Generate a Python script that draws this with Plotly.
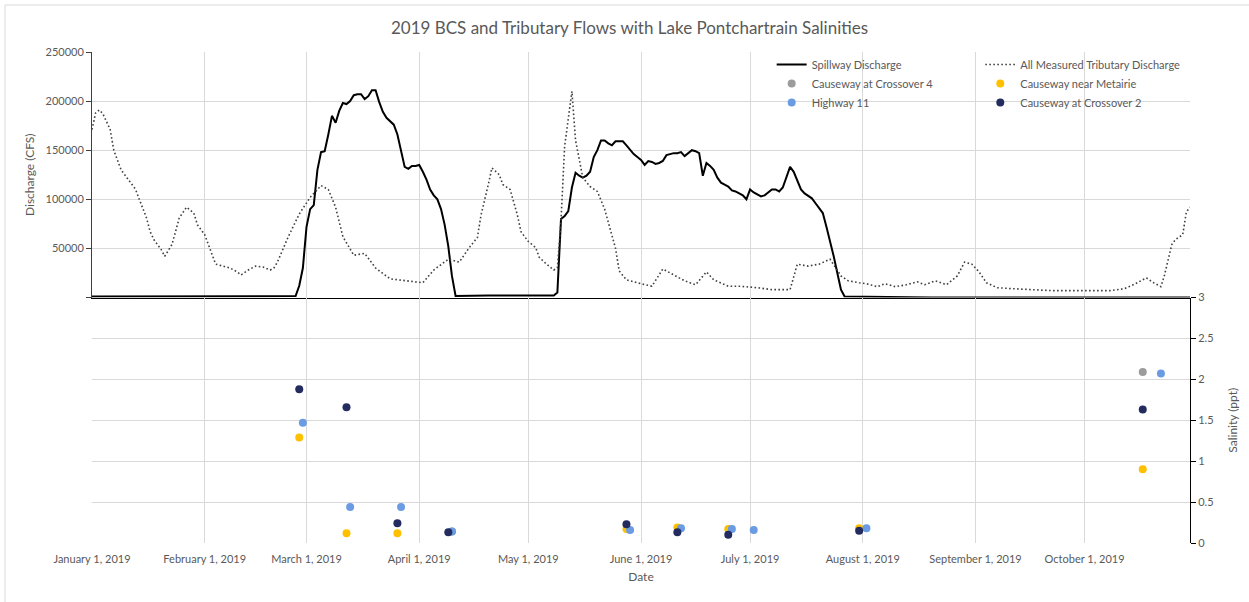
import plotly.graph_objects as go

# ---------------- data ----------------
spill_dates = [
    "2019-01-01", "2019-01-15", "2019-02-01", "2019-02-15", "2019-02-26",
    "2019-02-27", "2019-02-28", "2019-03-01", "2019-03-02", "2019-03-03", "2019-03-04",
    "2019-03-05", "2019-03-06", "2019-03-07", "2019-03-08", "2019-03-09", "2019-03-10",
    "2019-03-11", "2019-03-12", "2019-03-13", "2019-03-14", "2019-03-15", "2019-03-16",
    "2019-03-17", "2019-03-18", "2019-03-19", "2019-03-20", "2019-03-21", "2019-03-22",
    "2019-03-23", "2019-03-24", "2019-03-25", "2019-03-26", "2019-03-27", "2019-03-28",
    "2019-03-29", "2019-03-30", "2019-03-31", "2019-04-01", "2019-04-02", "2019-04-03",
    "2019-04-04", "2019-04-05", "2019-04-06", "2019-04-07", "2019-04-08", "2019-04-09",
    "2019-04-10", "2019-04-11", "2019-04-20", "2019-05-01", "2019-05-08",
    "2019-05-09", "2019-05-10", "2019-05-11", "2019-05-12", "2019-05-13", "2019-05-14",
    "2019-05-15", "2019-05-16", "2019-05-17", "2019-05-18", "2019-05-19", "2019-05-20",
    "2019-05-21", "2019-05-22", "2019-05-23", "2019-05-24", "2019-05-25", "2019-05-26",
    "2019-05-27", "2019-05-28", "2019-05-29", "2019-05-30", "2019-05-31", "2019-06-01",
    "2019-06-02", "2019-06-03", "2019-06-04", "2019-06-05", "2019-06-06", "2019-06-07",
    "2019-06-08", "2019-06-09", "2019-06-10", "2019-06-11", "2019-06-12", "2019-06-13",
    "2019-06-14", "2019-06-15", "2019-06-16", "2019-06-17", "2019-06-18", "2019-06-19",
    "2019-06-20", "2019-06-21", "2019-06-22", "2019-06-23", "2019-06-24", "2019-06-25",
    "2019-06-26", "2019-06-27", "2019-06-28", "2019-06-29", "2019-06-30", "2019-07-01",
    "2019-07-02", "2019-07-03", "2019-07-04", "2019-07-05", "2019-07-06", "2019-07-07",
    "2019-07-08", "2019-07-09", "2019-07-10", "2019-07-11", "2019-07-12", "2019-07-13",
    "2019-07-14", "2019-07-15", "2019-07-16", "2019-07-17", "2019-07-18", "2019-07-19",
    "2019-07-20", "2019-07-21", "2019-07-22", "2019-07-23", "2019-07-24", "2019-07-25",
    "2019-07-26", "2019-07-27", "2019-08-10", "2019-08-20", "2019-10-30",
]
spill_cfs = [
    1000, 1200, 1500, 1200, 1500,
    12000, 30000, 72000, 90000, 94000, 130000,
    148000, 149000, 166000, 185000, 178000, 190000,
    198000, 197000, 200000, 206000, 207000, 207000,
    202000, 205000, 211000, 211000, 199000, 189000,
    183000, 179000, 176000, 166000, 150000, 133000,
    131000, 134000, 134000, 135000, 128000, 120000,
    110000, 104000, 100000, 90000, 74000, 52000,
    22000, 1500, 2000, 2000, 2000,
    5000, 80000, 83000, 88000, 112000, 127000,
    124000, 122000, 124000, 128000, 143000, 150000,
    160000, 160000, 157000, 155000, 159000, 159000,
    159000, 155000, 150000, 146000, 143000, 140000,
    135000, 139000, 138000, 136000, 137000, 139000,
    145000, 146000, 147000, 147000, 148000, 144000,
    147000, 150000, 149000, 147000, 124000, 137000,
    134000, 130000, 122000, 117000, 115000, 113000,
    109000, 108000, 106000, 104000, 100000, 110000,
    107000, 105000, 103000, 104000, 107000, 110000,
    110000, 108000, 112000, 122000, 133000, 128000,
    118000, 110000, 106000, 103000, 101000, 96000,
    91000, 86000, 72000, 58000, 42000, 25000,
    8000, 1000, 800, 0, 0,
]

trib_dates = [
    "2019-01-01", "2019-01-02", "2019-01-03", "2019-01-04", "2019-01-06", "2019-01-07",
    "2019-01-09", "2019-01-11", "2019-01-13", "2019-01-14", "2019-01-16", "2019-01-17",
    "2019-01-18", "2019-01-20", "2019-01-21", "2019-01-23", "2019-01-24", "2019-01-25",
    "2019-01-27", "2019-01-29", "2019-01-30", "2019-02-01", "2019-02-03", "2019-02-04",
    "2019-02-06", "2019-02-08", "2019-02-10", "2019-02-11", "2019-02-13", "2019-02-15",
    "2019-02-17", "2019-02-19", "2019-02-20", "2019-02-21", "2019-02-24", "2019-02-27",
    "2019-03-02", "2019-03-05", "2019-03-07", "2019-03-09", "2019-03-11", "2019-03-14",
    "2019-03-17", "2019-03-20", "2019-03-24", "2019-03-29", "2019-04-02", "2019-04-05",
    "2019-04-09", "2019-04-12", "2019-04-15", "2019-04-17", "2019-04-18", "2019-04-20",
    "2019-04-21", "2019-04-23", "2019-04-24", "2019-04-26", "2019-04-28", "2019-04-29",
    "2019-05-01", "2019-05-03", "2019-05-04", "2019-05-06", "2019-05-08", "2019-05-09",
    "2019-05-10", "2019-05-11", "2019-05-12", "2019-05-13", "2019-05-14", "2019-05-16",
    "2019-05-18", "2019-05-20", "2019-05-22", "2019-05-24", "2019-05-25", "2019-05-26",
    "2019-05-28", "2019-06-01", "2019-06-04", "2019-06-07", "2019-06-10", "2019-06-13",
    "2019-06-16", "2019-06-19", "2019-06-21", "2019-06-25", "2019-06-28", "2019-07-03",
    "2019-07-07", "2019-07-12", "2019-07-14", "2019-07-17", "2019-07-20", "2019-07-23",
    "2019-07-26", "2019-07-28", "2019-07-31", "2019-08-02", "2019-08-05", "2019-08-07",
    "2019-08-10", "2019-08-13", "2019-08-16", "2019-08-18", "2019-08-21", "2019-08-24",
    "2019-08-27", "2019-08-29", "2019-08-31", "2019-09-02", "2019-09-04", "2019-09-07",
    "2019-09-11", "2019-09-16", "2019-09-22", "2019-09-27", "2019-10-03", "2019-10-08",
    "2019-10-12", "2019-10-15", "2019-10-18", "2019-10-20", "2019-10-22", "2019-10-23",
    "2019-10-25", "2019-10-26", "2019-10-28", "2019-10-29", "2019-10-30",
]
trib_cfs = [
    171000, 188000, 191000, 187000, 171000, 150000,
    130000, 120000, 110000, 100000, 81000, 67000,
    59000, 49000, 42000, 54000, 69000, 81000,
    92000, 86000, 74000, 64000, 44000, 34000,
    32000, 30000, 26000, 23000, 28000, 32000,
    31000, 28000, 30000, 36000, 62000, 85000,
    102000, 114000, 110000, 92000, 62000, 43000,
    45000, 30000, 19000, 16500, 15000, 28000,
    39000, 36000, 52000, 61000, 84000, 115000,
    132000, 125000, 115000, 110000, 84000, 67000,
    57000, 51000, 41000, 34000, 28000, 30000,
    79000, 154000, 185000, 210000, 160000, 122000,
    113000, 108000, 90000, 62000, 50000, 27000,
    18000, 14000, 11500, 29000, 23000, 17000,
    13000, 26000, 18000, 11500, 11500, 10000,
    8000, 8000, 34000, 32000, 34000, 39000,
    22000, 17000, 15000, 14000, 11000, 14000,
    11000, 13000, 16000, 13000, 17000, 13000,
    22000, 36000, 34000, 26000, 15000, 10000,
    9000, 8000, 7000, 7000, 7000, 7000,
    9000, 14000, 20000, 15000, 11000, 23000,
    54000, 59000, 64000, 87000, 92000,
]

cx4_dates = ["2019-04-10", "2019-10-17"]
cx4_ppt = [0.14, 2.09]

metairie_dates = ["2019-02-27", "2019-03-12", "2019-03-26", "2019-05-28", "2019-06-11",
                  "2019-06-25", "2019-07-31", "2019-10-17"]
metairie_ppt = [1.29, 0.12, 0.12, 0.17, 0.19, 0.17, 0.18, 0.90]

hwy11_dates = ["2019-02-28", "2019-03-13", "2019-03-27", "2019-04-10", "2019-05-29",
               "2019-06-12", "2019-06-26", "2019-07-02", "2019-08-02", "2019-10-22"]
hwy11_ppt = [1.47, 0.44, 0.44, 0.14, 0.16, 0.18, 0.17, 0.16, 0.18, 2.07]

cx2_dates = ["2019-02-27", "2019-03-12", "2019-03-26", "2019-04-09", "2019-05-28",
             "2019-06-11", "2019-06-25", "2019-07-31", "2019-10-17"]
cx2_ppt = [1.88, 1.66, 0.24, 0.13, 0.23, 0.13, 0.10, 0.15, 1.63]

month_ticks = ["2019-01-01", "2019-02-01", "2019-03-01", "2019-04-01", "2019-05-01",
               "2019-06-01", "2019-07-01", "2019-08-01", "2019-09-01", "2019-10-01"]
discharge_ticks = [0, 50000, 100000, 150000, 200000, 250000]
discharge_labels = ["", "50000", "100000", "150000", "200000", "250000"]

# ---------------- figure ----------------
FONT = "Lato"
TXT = "#595959"
GRID = "#d9d9d9"
XR = ["2019-01-01", "2019-10-30"]

fig = go.Figure()

fig.add_trace(go.Scatter(
    x=spill_dates, y=spill_cfs, mode="lines", name="Spillway Discharge",
    line=dict(color="black", width=2), xaxis="x", yaxis="y", legend="legend"))
fig.add_trace(go.Scatter(
    x=trib_dates, y=trib_cfs, mode="lines", name="All Measured Tributary Discharge",
    line=dict(color="#404040", width=1.6, dash="1.6px,2.4px"),
    xaxis="x", yaxis="y", legend="legend2"))

mk = dict(size=8)
fig.add_trace(go.Scatter(
    x=cx4_dates, y=cx4_ppt, mode="markers", name="Causeway at Crossover 4",
    marker=dict(color="#9c9c9c", **mk), xaxis="x2", yaxis="y2", legend="legend"))
fig.add_trace(go.Scatter(
    x=metairie_dates, y=metairie_ppt, mode="markers", name="Causeway near Metairie",
    marker=dict(color="#ffc000", **mk), xaxis="x2", yaxis="y2", legend="legend2"))
fig.add_trace(go.Scatter(
    x=hwy11_dates, y=hwy11_ppt, mode="markers", name="Highway 11",
    marker=dict(color="#6a9be3", **mk), xaxis="x2", yaxis="y2", legend="legend"))
fig.add_trace(go.Scatter(
    x=cx2_dates, y=cx2_ppt, mode="markers", name="Causeway at Crossover 2",
    marker=dict(color="#232b5f", **mk), xaxis="x2", yaxis="y2", legend="legend2"))

tickfont = dict(family=FONT, size=11, color=TXT)

fig.update_layout(
    width=1249, height=602,
    margin=dict(l=92, r=59, t=52, b=59),
    paper_bgcolor="white", plot_bgcolor="white",
    font=dict(family=FONT, size=11, color=TXT),
    title=dict(text="2019 BCS and Tributary Flows with Lake Pontchartrain Salinities",
               x=0.504, xanchor="center", y=0.953, yanchor="middle",
               font=dict(family=FONT, size=17, color=TXT)),
    xaxis=dict(domain=[0, 1], anchor="y", range=XR, tickvals=month_ticks,
               showticklabels=False, showgrid=True, gridcolor=GRID, gridwidth=1,
               ticks="", showline=True, linecolor="black", linewidth=1, zeroline=False),
    yaxis=dict(domain=[0.5, 1], anchor="x", range=[0, 250000],
               tickvals=discharge_ticks, ticktext=discharge_labels,
               ticks="outside", ticklen=5, tickcolor="#404040",
               showline=True, linecolor="#404040", linewidth=1,
               showgrid=True, gridcolor=GRID, zeroline=False, tickfont=tickfont,
               title=dict(text="Discharge (CFS)", standoff=8,
                          font=dict(family=FONT, size=12, color=TXT))),
    yaxis3=dict(overlaying="y", anchor="x", side="right", range=[3, 6], dtick=0.5,
                ticks="outside", ticklen=5, tickcolor="black", showticklabels=False,
                showline=True, linecolor="black", linewidth=1,
                showgrid=False, zeroline=False),
    xaxis2=dict(domain=[0, 1], anchor="y2", range=XR, tickvals=month_ticks,
                tickformat="%B %-d, %Y", showgrid=True, gridcolor=GRID, ticks="",
                ticklabelstandoff=8,
                showline=False, zeroline=False, tickfont=tickfont,
                title=dict(text="Date", standoff=8,
                           font=dict(family=FONT, size=12, color=TXT))),
    yaxis2=dict(domain=[0, 0.5], anchor="x2", side="right", range=[0, 3], dtick=0.5,
                ticks="outside", ticklen=5, tickcolor="black",
                showline=True, linecolor="black", linewidth=1,
                showgrid=True, gridcolor=GRID, zeroline=False, tickfont=tickfont,
                title=dict(text="Salinity (ppt)", standoff=16,
                           font=dict(family=FONT, size=12, color=TXT))),
    yaxis4=dict(overlaying="y2", anchor="x2", side="left", range=[-250000, 0], dtick=50000,
                ticks="outside", ticklen=5, tickcolor="#404040", showticklabels=False,
                showline=True, linecolor="#404040", linewidth=1,
                showgrid=False, zeroline=False),
    legend=dict(x=0.619, y=1.004, xanchor="left", yanchor="top",
                bgcolor="rgba(0,0,0,0)", tracegroupgap=0,
                font=dict(family=FONT, size=11, color=TXT)),
    legend2=dict(x=0.809, y=1.004, xanchor="left", yanchor="top",
                 bgcolor="rgba(0,0,0,0)", tracegroupgap=0,
                 font=dict(family=FONT, size=11, color=TXT)),
    shapes=[dict(type="rect", xref="paper", yref="paper",
                 x0=-0.0792, x1=1.2, y0=-0.3, y1=1.0957,
                 line=dict(color="#d9d9d9", width=1), fillcolor="rgba(0,0,0,0)",
                 layer="below")],
)

fig.write_html("out.html")
